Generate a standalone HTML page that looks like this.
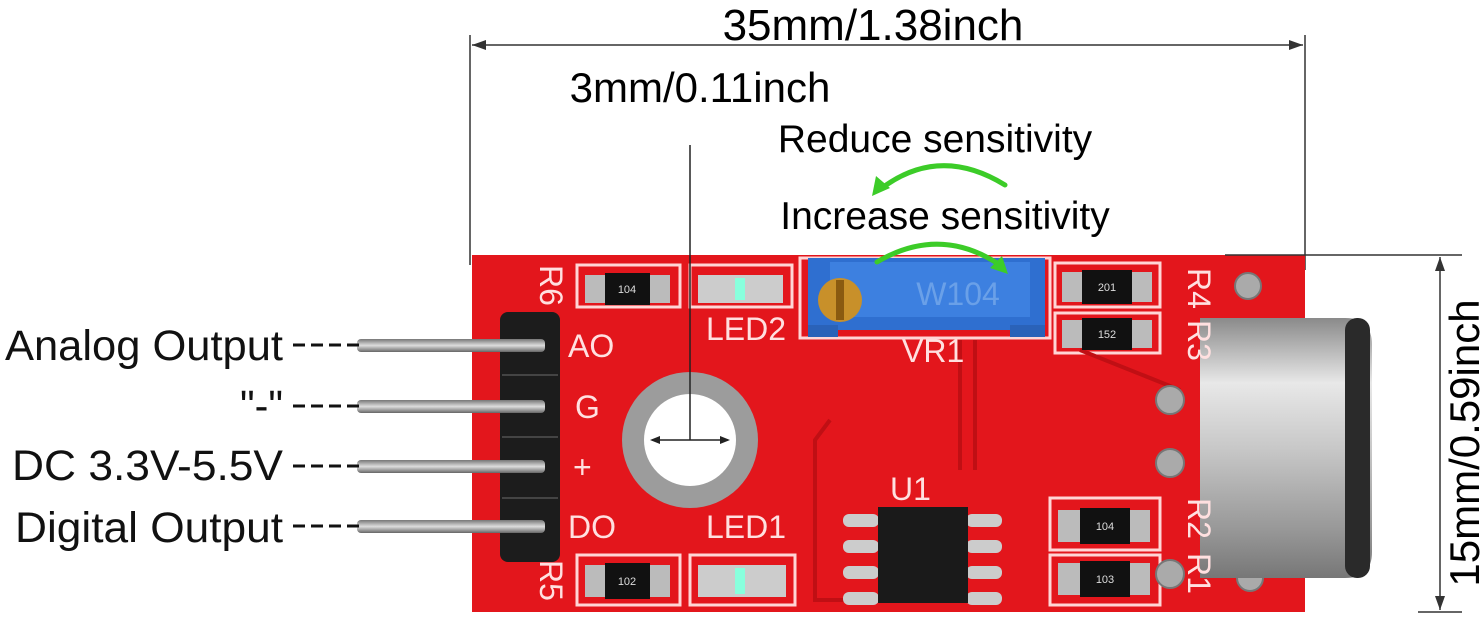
<!DOCTYPE html>
<html><head><meta charset="utf-8"><style>
body{margin:0;background:#fff;}
svg{display:block;}
text{font-family:"Liberation Sans",sans-serif;}
</style></head><body>
<svg width="1483" height="627" viewBox="0 0 1483 627" xmlns="http://www.w3.org/2000/svg">
<defs>
<linearGradient id="mic" x1="0" y1="0" x2="0" y2="1">
<stop offset="0" stop-color="#8a8a8a"/><stop offset="0.25" stop-color="#e8e8e8"/><stop offset="0.5" stop-color="#c8c8c8"/><stop offset="0.8" stop-color="#9a9a9a"/><stop offset="1" stop-color="#777"/></linearGradient>
<linearGradient id="pin" x1="0" y1="0" x2="0" y2="1"><stop offset="0" stop-color="#777"/><stop offset="0.5" stop-color="#ddd"/><stop offset="1" stop-color="#666"/></linearGradient>
</defs>
<!-- top dimension -->
<line x1="470" y1="35" x2="470" y2="265" stroke="#333" stroke-width="1.5"/>
<line x1="1305" y1="35" x2="1305" y2="270" stroke="#333" stroke-width="1.5"/>
<line x1="472" y1="45" x2="1303" y2="45" stroke="#333" stroke-width="1.5"/>
<path d="M472 45 l14 -5 v10z M1303 45 l-14 -5 v10z" fill="#333"/>
<text x="873" y="40" font-size="44" text-anchor="middle">35mm/1.38inch</text>
<text x="700" y="102" font-size="42" text-anchor="middle">3mm/0.11inch</text>
<text x="935" y="152" font-size="39" text-anchor="middle">Reduce sensitivity</text>
<text x="945" y="229" font-size="39" text-anchor="middle">Increase sensitivity</text>
<!-- PCB -->
<rect x="472" y="255" width="833" height="357" fill="#e3161c"/>
<g fill="none" stroke="#ffd6d6" stroke-width="3">
<rect x="577" y="265" width="103" height="42"/><rect x="690" y="265" width="102" height="42"/>
<rect x="1055" y="263" width="105" height="44"/><rect x="1055" y="313" width="105" height="40"/>
<rect x="1050" y="498" width="110" height="52"/><rect x="1050" y="555" width="110" height="50"/>
<rect x="577" y="555" width="103" height="50"/><rect x="690" y="555" width="105" height="50"/>
<rect x="800" y="258" width="250" height="80"/>
</g>
<g stroke="#c00f14" stroke-width="4" fill="none">
<path d="M960 340 V470 M975 340 V470 M830 420 L815 440 V600 H870"/>
<path d="M1080 350 L1180 390"/>
</g>
<!-- resistors -->
<g>
<rect x="585" y="275" width="85" height="28" fill="#bbb"/><rect x="605" y="273" width="45" height="32" fill="#111"/>
<rect x="698" y="275" width="85" height="28" fill="#ccc"/><rect x="735" y="278" width="10" height="22" fill="#8fd"/>
<rect x="1062" y="272" width="90" height="30" fill="#bbb"/><rect x="1082" y="270" width="50" height="34" fill="#111"/>
<rect x="1062" y="320" width="90" height="28" fill="#bbb"/><rect x="1082" y="318" width="50" height="32" fill="#111"/>
<rect x="1058" y="510" width="92" height="32" fill="#bbb"/><rect x="1080" y="508" width="50" height="36" fill="#111"/>
<rect x="1058" y="563" width="92" height="32" fill="#bbb"/><rect x="1080" y="561" width="50" height="36" fill="#111"/>
<rect x="585" y="565" width="85" height="32" fill="#bbb"/><rect x="605" y="563" width="45" height="36" fill="#111"/>
<rect x="698" y="565" width="88" height="32" fill="#ccc"/><rect x="735" y="568" width="10" height="26" fill="#8fd"/>
</g>
<g font-size="11" fill="#ddd" text-anchor="middle">
<text x="627" y="293">104</text><text x="1107" y="291">201</text><text x="1107" y="338">152</text>
<text x="1105" y="530">104</text><text x="1105" y="583">103</text><text x="627" y="585">102</text>
</g>
<!-- pot -->
<rect x="808" y="258" width="237" height="72" fill="#2f6fd0"/>
<rect x="830" y="262" width="200" height="55" fill="#3d80e0"/>
<rect x="808" y="325" width="30" height="12" fill="#2a62b8"/><rect x="1010" y="325" width="35" height="12" fill="#2a62b8"/>
<circle cx="840" cy="300" r="22" fill="#c8902a"/><rect x="836" y="280" width="8" height="40" fill="#8a5a10"/>
<text x="958" y="305" font-size="32" fill="#6aa0e8" text-anchor="middle">W104</text>
<!-- hole -->
<circle cx="690" cy="440" r="68" fill="#9c9c9c"/><circle cx="690" cy="440" r="46" fill="#fff"/>
<line x1="690" y1="145" x2="690" y2="440" stroke="#222" stroke-width="1.5"/>
<line x1="652" y1="440" x2="728" y2="440" stroke="#222" stroke-width="1.5"/>
<path d="M650 440 l10 -4 v8z M730 440 l-10 -4 v8z" fill="#222"/>
<!-- chip -->
<g fill="#ccc"><rect x="843" y="514" width="36" height="13" rx="6"/><rect x="843" y="540" width="36" height="13" rx="6"/><rect x="843" y="566" width="36" height="13" rx="6"/><rect x="843" y="592" width="36" height="13" rx="6"/>
<rect x="966" y="514" width="36" height="13" rx="6"/><rect x="966" y="540" width="36" height="13" rx="6"/><rect x="966" y="566" width="36" height="13" rx="6"/><rect x="966" y="592" width="36" height="13" rx="6"/></g>
<rect x="878" y="507" width="90" height="96" fill="#1a1a1a"/>
<!-- pads -->
<g fill="#aaa" stroke="#777" stroke-width="2">
<circle cx="1170" cy="400" r="14"/><circle cx="1170" cy="463" r="14"/><circle cx="1170" cy="574" r="14"/>
<circle cx="1248" cy="286" r="13"/><circle cx="1250" cy="578" r="13"/></g>
<!-- mic -->
<path d="M1200 318 H1345 Q1372 318 1372 345 V552 Q1372 578 1345 578 H1200 Z" fill="url(#mic)"/>
<rect x="1345" y="318" width="25" height="260" rx="12" fill="#2a2a2a"/>
<!-- header & pins -->
<rect x="500" y="312" width="60" height="250" rx="8" fill="#1c1c1c"/>
<g stroke="#444" stroke-width="2"><line x1="502" y1="375" x2="558" y2="375"/><line x1="502" y1="437" x2="558" y2="437"/><line x1="502" y1="498" x2="558" y2="498"/></g>
<g fill="url(#pin)"><rect x="357" y="339" width="188" height="13" rx="4"/><rect x="357" y="400" width="188" height="13" rx="4"/><rect x="357" y="460" width="188" height="13" rx="4"/><rect x="357" y="520" width="188" height="13" rx="4"/></g>
<!-- silk text -->
<g fill="#ffe0e0" font-size="32">
<text x="568" y="357">AO</text><text x="575" y="418">G</text><text x="573" y="478">+</text><text x="568" y="538">DO</text>
<text x="706" y="340">LED2</text><text x="706" y="538">LED1</text><text x="902" y="362">VR1</text><text x="890" y="500">U1</text>
<text transform="translate(540,265) rotate(90)">R6</text><text transform="translate(540,560) rotate(90)">R5</text>
<text transform="translate(1188,268) rotate(90)">R4</text><text transform="translate(1188,320) rotate(90)">R3</text>
<text transform="translate(1188,498) rotate(90)">R2</text><text transform="translate(1188,553) rotate(90)">R1</text>
</g>
<!-- left labels -->
<g font-size="43" fill="#111">
<text x="5" y="360" textLength="278" lengthAdjust="spacingAndGlyphs">Analog Output</text>
<text x="240" y="420" textLength="43" lengthAdjust="spacingAndGlyphs">"-"</text>
<text x="12" y="480" textLength="271" lengthAdjust="spacingAndGlyphs">DC 3.3V-5.5V</text>
<text x="15" y="542" textLength="268" lengthAdjust="spacingAndGlyphs">Digital Output</text>
</g>
<g stroke="#111" stroke-width="3" stroke-dasharray="12 6">
<line x1="293" y1="345" x2="360" y2="345"/><line x1="293" y1="406" x2="360" y2="406"/>
<line x1="293" y1="466" x2="360" y2="466"/><line x1="293" y1="526" x2="360" y2="526"/></g>
<!-- green arrows -->
<g stroke="#3ccc28" stroke-width="5" fill="none" stroke-linecap="round">
<path d="M1005 185 Q940 145 882 188"/><path d="M877 262 Q940 225 1000 265"/></g>
<path d="M872 196 l4 -20 l14 12z" fill="#3ccc28"/><path d="M1008 274 l-18 -6 l12 -12z" fill="#3ccc28"/>
<!-- right dimension -->
<line x1="1225" y1="255" x2="1462" y2="255" stroke="#333" stroke-width="1.5"/>
<line x1="1418" y1="612" x2="1462" y2="612" stroke="#333" stroke-width="1.5"/>
<line x1="1440" y1="257" x2="1440" y2="610" stroke="#333" stroke-width="1.5"/>
<path d="M1440 257 l-5 14 h10z M1440 610 l-5 -14 h10z" fill="#333"/>
<text transform="translate(1479,443) rotate(-90)" font-size="42" text-anchor="middle">15mm/0.59inch</text>
</svg>
</body></html>
